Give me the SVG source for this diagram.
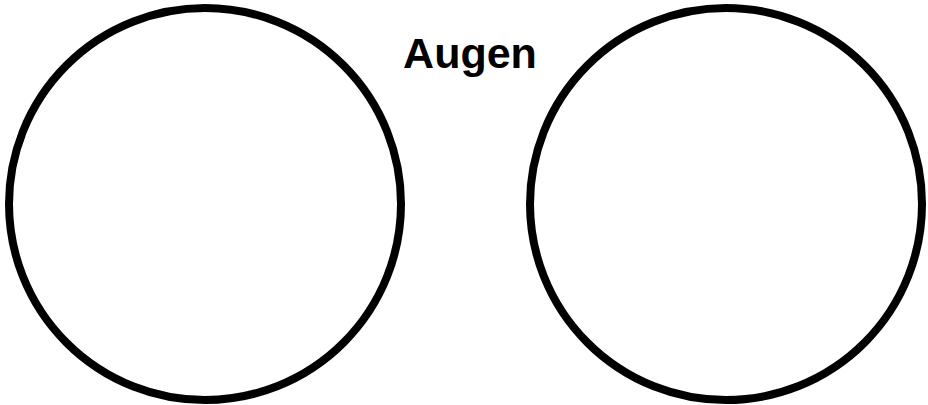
<svg xmlns="http://www.w3.org/2000/svg" width="928" height="405" viewBox="0 0 928 405">
<style>
.eye{fill:#fff;stroke:#000;stroke-width:8}
.lbl{font-family:"Liberation Sans",Arial,sans-serif;font-weight:bold;font-size:43px;fill:#000;text-anchor:middle}
</style>
<rect width="928" height="405" fill="#fff"/>
<g id="eye-left"><circle class="eye" cx="205" cy="204" r="196"/></g>
<g id="eye-right"><circle class="eye" cx="726" cy="204" r="196"/></g>
<g id="label"><text class="lbl" x="470" y="68">Augen</text></g>
<g id="connectors"></g>
</svg>
